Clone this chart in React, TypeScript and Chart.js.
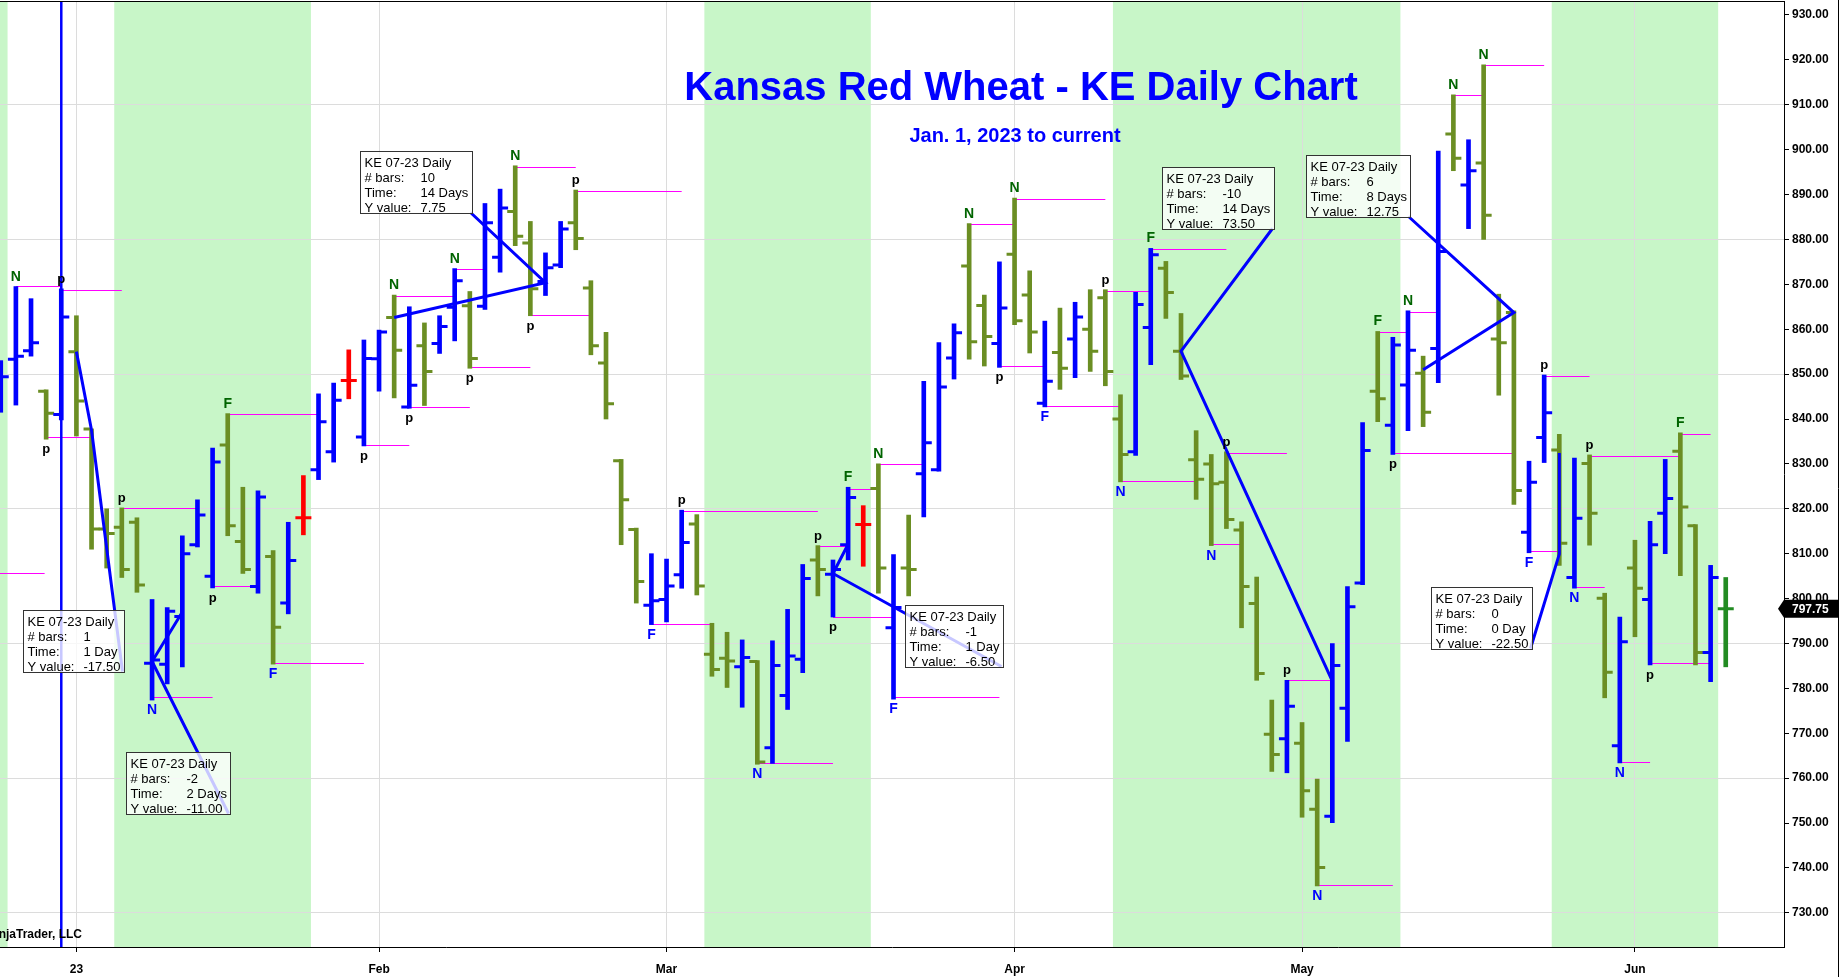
import { useEffect, useRef } from 'react';
import { Chart, registerables } from 'chart.js';

Chart.register(...registerables);

const FONT = '"Liberation Sans", Arial, sans-serif';

// daily bars, index 0 = Dec 23 2022 ... index 114 = Jun 9 2023
const opens = [
  845, 853.3, 855.2, 846.2, 841, 855, 837.8, 815.5, 815.9, 817,
  785.6, 785.4, 796, 812, 805, 834.2, 812.7, 802.7, 809.4, 799,
  818, 828.7, 832.7, 848.6, 836, 853.4, 862.6, 842.7, 856.3, 856.8,
  864.9, 865.2, 865.1, 876, 886.2, 879.2, 870.6, 874.3, 883.7, 869.2,
  852.5, 830.7, 815.4, 798.5, 799.8, 805.3, 816.6, 787.6, 786.7, 784.8,
  786, 766.8, 778.4, 786.5, 808.6, 805.4, 812, 816.5, 824.5, 793.5,
  806.8, 827.8, 828.7, 853.6, 874.1, 865.3, 856.8, 876.7, 867.6, 843.5,
  854.8, 857.8, 860, 867, 840, 832.7, 860.4, 873.6, 855.1, 830.9,
  830, 825.9, 815.3, 798.9, 769.8, 768.8, 767.8, 753.1, 751.5, 775.6,
  803.5, 846.2, 838.6, 847.6, 850.2, 855.7, 903.5, 892.1, 897, 857.8,
  863.7, 814.8, 835.9, 833.1, 804.7, 830.1, 800.1, 767.2, 806.8, 799.8,
  819, 832.8, 816.2, 788, 797.75,
];
const highs = [
  853, 869.5, 866.8, 846.5, 869, 863, 837.8, 820, 820.2, 818,
  799.8, 798, 814, 822, 833.5, 841.2, 824.8, 824, 810.7, 817,
  827.4, 845.6, 848, 855.4, 857.6, 859.8, 867.6, 865, 861.4, 863,
  873.5, 868.4, 888, 891.2, 896.4, 884, 877, 884, 891, 870.8,
  859.3, 831, 815.7, 810, 808.8, 819.7, 818.7, 794.5, 792.5, 790.8,
  786.2, 790.6, 797.6, 807.6, 811.8, 808.6, 824.8, 820.7, 830, 809.8,
  818.6, 848.4, 857, 861.2, 883.5, 867.6, 875, 889.2, 873, 861.8,
  864.7, 866, 868.8, 868.8, 845.4, 868.2, 878, 875.1, 863.5, 837.4,
  832.1, 832.7, 817.1, 804.8, 777.4, 781.8, 772.4, 759.8, 790, 802.7,
  839.2, 859.5, 858.2, 864.1, 854, 899.7, 912.2, 902.2, 918.9, 867.8,
  864.1, 830.6, 849.8, 836.6, 831.3, 832, 801.2, 795.9, 813, 817.2,
  831, 836.9, 816.5, 807.4, 804.7,
];
const lows = [
  841.5, 843.1, 854, 835.5, 839.8, 836.2, 811, 806.8, 804.7, 801.4,
  777.4, 781, 784.8, 811.5, 802.4, 814, 805.6, 801.2, 785.4, 796.6,
  814.2, 826.5, 830.4, 844.5, 834, 846.2, 844.7, 842.4, 843, 854.6,
  857.4, 851.3, 864.4, 872.7, 878.6, 863, 867.5, 873.7, 877.7, 854.3,
  840, 812, 799, 794.2, 794.8, 802.3, 800.8, 782.7, 780.2, 775.8,
  763.1, 763.3, 775.3, 783.5, 800.6, 795.9, 808.6, 807.2, 801.2, 777.6,
  800.6, 818.2, 828.4, 848.9, 853.3, 851.8, 851.5, 861, 854.7, 842.7,
  846.6, 849.2, 850.6, 847.4, 826, 831.9, 852.1, 862.4, 848.8, 822.1,
  811.8, 815.6, 793.5, 781.8, 761.5, 761.2, 751.3, 736, 750.1, 768.2,
  803.1, 839.4, 832.1, 837.4, 838.3, 848.1, 895.3, 882.4, 880, 845.3,
  821, 810.2, 830.3, 807.4, 802.3, 811.9, 777.9, 763.4, 791.5, 785.2,
  810, 805.1, 785.2, 781.5, 784.8,
];
const closes = [
  849.4, 854, 857, 841.3, 862.7, 844, 815.5, 814.5, 806.5, 803,
  786.3, 797.2, 810, 818.6, 830.4, 816.2, 806.5, 822.6, 793.6, 808.5,
  818, 839.4, 844.2, 848.6, 853.5, 859.4, 855.3, 847.5, 850.6, 860.6,
  870.8, 853.5, 883.7, 887, 880.7, 869, 873.7, 882.3, 880.2, 856.3,
  843.4, 822, 803.8, 799.5, 802.8, 812.5, 802.8, 784.2, 786.1, 786.9,
  763.6, 785.1, 787.2, 804.5, 806.5, 806.5, 822.5, 816.5, 806.8, 798,
  806.5, 834.7, 847.1, 859.2, 857.2, 858.4, 864.7, 861.9, 859.4, 848.4,
  851.3, 862.7, 855.1, 850.6, 832.1, 865.5, 876.6, 868.2, 849.6, 826.6,
  825.6, 817.6, 802.7, 783.3, 765.3, 776, 757.2, 740.1, 785.1, 798.2,
  833, 844.5, 856.5, 855.3, 841.5, 877.3, 898.1, 895.3, 885.4, 857,
  824.1, 825.9, 841.4, 812.3, 817.9, 819, 783.6, 790.4, 802.3, 812,
  822.3, 820.4, 788, 804.7, 797.75,
];

const monthTicks = [5, 25, 44, 67, 86, 108];
const monthLabels = ['23', 'Feb', 'Mar', 'Apr', 'May', 'Jun'];
const priceTicks = [730, 740, 750, 760, 770, 780, 790, 800, 810, 820, 830, 840, 850, 860, 870, 880, 890, 900, 910, 920, 930];

// green time windows (bar index from / to)
const bandStart = [-0.5, 7.5, 46.5, 73.5, 102.5];
const bandEnd = [0.45, 20.5, 57.5, 92.5, 113.5];

// swing markers
const swingIdx = [1, 3, 4, 8, 10, 14, 15, 18, 24, 26, 27, 30, 31, 34, 35, 38, 43, 45, 50, 54, 55, 56, 58, 59, 64, 66, 67, 69, 73, 74, 76, 80, 81, 85, 87, 91, 92, 93, 96, 98, 101, 102, 104, 105, 107, 109, 111];
const swingText = ['N', 'p', 'p', 'p', 'N', 'p', 'F', 'F', 'p', 'N', 'p', 'N', 'p', 'N', 'p', 'p', 'F', 'p', 'N', 'p', 'p', 'F', 'N', 'F', 'N', 'p', 'N', 'F', 'p', 'N', 'F', 'N', 'p', 'p', 'N', 'F', 'p', 'N', 'N', 'N', 'F', 'p', 'N', 'p', 'N', 'p', 'F'];
const swingAbove = [true, false, true, true, false, false, true, false, false, true, false, true, false, true, false, true, false, true, false, true, false, true, true, false, true, false, true, false, true, false, true, false, true, true, false, true, false, true, true, true, false, true, false, true, false, false, true];

// magenta level lines: from index, to index, price
const levelFrom = [-1, 1, 4, 3, 8, 10, 14, 15, 18, 24, 26, 27, 30, 31, 34, 35, 38, 43, 45, 50, 54, 55, 56, 58, 59, 64, 66, 67, 69, 73, 74, 76, 80, 81, 85, 87, 91, 92, 93, 96, 98, 101, 102, 104, 105, 107, 109, 111];
const levelTo = [2.9, 4, 8, 6, 13, 14, 17, 21, 24, 27, 30, 31, 32, 35, 38, 39, 45, 47, 54, 55, 56, 59, 58, 61, 66, 67, 69, 73, 74, 76, 79, 81, 82, 85, 88, 92, 93, 100, 95, 98, 102, 103, 105, 106, 111, 109, 113, 113];
const levelPrice = [805.6, 869.6, 868.8, 835.9, 820.2, 778, 802.8, 841.2, 785.6, 834.2, 867.5, 842.7, 873.5, 851.5, 896.2, 863.1, 890.8, 794.4, 819.5, 763.3, 811.8, 795.9, 824.5, 829.9, 778, 883.5, 851.8, 888.9, 842.9, 868.6, 826.2, 877.8, 812.1, 832.5, 781.8, 736.2, 859.4, 832.4, 863.9, 912.2, 918.8, 810.5, 849.5, 802.6, 831.7, 763.7, 785.7, 836.6];

// rulers: start / end (bar index, price), calendar days, info box top-left (bar index, price)
const rulerStartIdx = [5, 12, 26, 56, 88, 94, 103];
const rulerStartPrice = [855, 797, 862.6, 812.1, 781.6, 850.95, 832.4];
const rulerEndIdx = [6, 10, 36, 55, 78, 100, 103];
const rulerEndPrice = [837.5, 786, 870.35, 805.6, 855.1, 863.7, 809.9];
const rulerDays = [1, 2, 14, 1, 14, 8, 0];
const boxIdx = [1.49, 8.26, 23.74, 59.76, 76.75, 86.27, 94.53];
const boxPrice = [797.4, 765.8, 899.65, 798.6, 896.1, 898.8, 802.6];

const cursorIdx = 4;

function barColor(i: number) {
  if (i === closes.length - 1) return '#228B22';
  if (closes[i] > opens[i]) return '#0000FF';
  if (closes[i] < opens[i]) return '#6B8E23';
  return '#FF0000';
}

const overlayPlugin = {
  id: 'overlay',
  beforeDraw(chart: any) {
    const { ctx, chartArea: a, scales } = chart;
    const xs = scales.x;
    ctx.save();
    ctx.fillStyle = '#ffffff';
    ctx.fillRect(0, 0, chart.width, chart.height);
    ctx.fillStyle = '#C8F6C8';
    bandStart.forEach((s, k) => {
      const x0 = Math.max(a.left, xs.getPixelForValue(s));
      const x1 = Math.min(a.right, xs.getPixelForValue(bandEnd[k]));
      ctx.fillRect(x0, a.top, x1 - x0, a.bottom - a.top);
    });
    ctx.restore();
  },
  beforeDatasetsDraw(chart: any) {
    const { ctx, chartArea: a, scales } = chart;
    const xs = scales.x, ys = scales.y;
    ctx.save();
    ctx.beginPath();
    ctx.rect(a.left, a.top, a.right - a.left, a.bottom - a.top);
    ctx.clip();
    ctx.strokeStyle = '#FF00FF';
    ctx.lineWidth = 1;
    levelFrom.forEach((f, k) => {
      const y = Math.round(ys.getPixelForValue(levelPrice[k])) + 0.5;
      ctx.beginPath();
      ctx.moveTo(xs.getPixelForValue(f), y);
      ctx.lineTo(xs.getPixelForValue(levelTo[k]), y);
      ctx.stroke();
    });
    ctx.restore();
  },
  afterDatasetsDraw(chart: any) {
    const { ctx, chartArea: a, scales } = chart;
    const xs = scales.x, ys = scales.y;
    ctx.save();
    ctx.beginPath();
    ctx.rect(a.left, a.top, a.right - a.left, a.bottom - a.top);
    ctx.clip();

    // open / close ticks
    ctx.lineWidth = 3;
    opens.forEach((o, i) => {
      const x = xs.getPixelForValue(i);
      ctx.strokeStyle = barColor(i);
      ctx.beginPath();
      ctx.moveTo(x - 8, ys.getPixelForValue(o));
      ctx.lineTo(x, ys.getPixelForValue(o));
      ctx.moveTo(x, ys.getPixelForValue(closes[i]));
      ctx.lineTo(x + 8, ys.getPixelForValue(closes[i]));
      ctx.stroke();
    });

    // cursor line
    ctx.strokeStyle = '#0000FF';
    ctx.lineWidth = 2.5;
    ctx.beginPath();
    ctx.moveTo(xs.getPixelForValue(cursorIdx), a.top);
    ctx.lineTo(xs.getPixelForValue(cursorIdx), a.bottom);
    ctx.stroke();

    // rulers with info boxes
    ctx.font = `13px ${FONT}`;
    rulerStartIdx.forEach((si, k) => {
      const sx = xs.getPixelForValue(si), sy = ys.getPixelForValue(rulerStartPrice[k]);
      const ex = xs.getPixelForValue(rulerEndIdx[k]), ey = ys.getPixelForValue(rulerEndPrice[k]);
      const bx = Math.round(xs.getPixelForValue(boxIdx[k])) + 0.5;
      const by = Math.round(ys.getPixelForValue(boxPrice[k])) + 0.5;
      const nb = rulerEndIdx[k] - si;
      const dy = rulerEndPrice[k] - rulerStartPrice[k];
      const d = rulerDays[k];
      const values = [String(nb), `${d} ${d > 1 ? 'Days' : 'Day'}`, dy.toFixed(2)];
      const head = 'KE 07-23 Daily';
      const valW = Math.max(...values.map((v) => ctx.measureText(v).width));
      const w = Math.round(Math.max(ctx.measureText(head).width + 9, 60 + valW + 4));
      const h = 62;

      ctx.strokeStyle = '#0000FF';
      ctx.lineWidth = 3;
      ctx.beginPath();
      ctx.moveTo(sx, sy);
      ctx.lineTo(ex, ey);
      ctx.lineTo(bx + w - 2, by + h - 1);
      ctx.stroke();

      ctx.fillStyle = 'rgba(255,255,255,0.78)';
      ctx.fillRect(bx, by, w, h);
      ctx.strokeStyle = '#333';
      ctx.lineWidth = 1;
      ctx.strokeRect(bx, by, w, h);
      ctx.fillStyle = '#000';
      ctx.textAlign = 'left';
      ctx.textBaseline = 'alphabetic';
      ctx.fillText(head, bx + 4, by + 15);
      ['# bars:', 'Time:', 'Y value:'].forEach((lab, r) => {
        ctx.fillText(lab, bx + 4, by + 30 + r * 15);
        ctx.fillText(values[r], bx + 60, by + 30 + r * 15);
      });
    });

    // swing labels
    ctx.textAlign = 'center';
    ctx.textBaseline = 'alphabetic';
    swingIdx.forEach((i, k) => {
      const t = swingText[k];
      const above = swingAbove[k];
      const x = xs.getPixelForValue(i);
      const y = above ? ys.getPixelForValue(highs[i]) - 6 : ys.getPixelForValue(lows[i]) + (t === 'p' ? 14 : 14);
      ctx.font = t === 'p' ? `bold 13px ${FONT}` : `bold 14px ${FONT}`;
      ctx.fillStyle = t === 'p' ? '#000' : above ? '#006400' : '#0000FF';
      ctx.fillText(t, x, y);
    });
    ctx.restore();

    // frame, titles, price marker
    ctx.save();
    ctx.strokeStyle = '#000';
    ctx.lineWidth = 1;
    ctx.beginPath();
    ctx.moveTo(a.left, a.top + 0.5);
    ctx.lineTo(a.right, a.top + 0.5);
    ctx.moveTo(chart.width - 1.5, 0);
    ctx.lineTo(chart.width - 1.5, chart.height);
    ctx.stroke();

    ctx.fillStyle = '#0000FF';
    ctx.textAlign = 'center';
    ctx.textBaseline = 'alphabetic';
    ctx.font = `bold 40px ${FONT}`;
    ctx.fillText('Kansas Red Wheat - KE Daily Chart', 1021, 100);
    ctx.font = `bold 20px ${FONT}`;
    ctx.fillText('Jan. 1, 2023 to current', 1015, 142);

    ctx.fillStyle = '#000';
    ctx.font = `bold 12px ${FONT}`;
    ctx.textAlign = 'right';
    ctx.fillText('\u00a9 2023 NinjaTrader, LLC', 82, 938);

    const last = closes.length - 1;
    const py = ys.getPixelForValue(closes[last]);
    ctx.fillStyle = '#000';
    ctx.beginPath();
    ctx.moveTo(a.right - 6, py);
    ctx.lineTo(a.right, py - 9);
    ctx.lineTo(chart.width - 2, py - 9);
    ctx.lineTo(chart.width - 2, py + 9);
    ctx.lineTo(a.right, py + 9);
    ctx.closePath();
    ctx.fill();
    ctx.fillStyle = '#fff';
    ctx.font = `bold 12px ${FONT}`;
    ctx.textAlign = 'left';
    ctx.textBaseline = 'middle';
    ctx.fillText(closes[last].toFixed(2), a.right + 8, py + 1);
    ctx.restore();
  },
};

export default function App() {
  const chartRef = useRef<HTMLCanvasElement | null>(null);
  const chartInstance = useRef<Chart | null>(null);

  useEffect(() => {
    if (!chartRef.current) return;
    if (chartInstance.current) chartInstance.current.destroy();

    chartInstance.current = new Chart(chartRef.current, {
      type: 'bar',
      data: {
        datasets: [
          {
            data: highs.map((h, i) => ({ x: i, y: [lows[i], h] })) as any,
            backgroundColor: highs.map((_, i) => barColor(i)),
            barThickness: 4,
            borderWidth: 0,
            grouped: false,
          },
        ],
      },
      options: {
        animation: false,
        responsive: true,
        maintainAspectRatio: false,
        layout: { padding: { top: 1, left: 0, right: 0, bottom: 0 } },
        plugins: {
          legend: { display: false },
          tooltip: { enabled: false },
        },
        scales: {
          x: {
            type: 'linear',
            min: -0.05,
            max: 117.85,
            offset: false,
            afterBuildTicks: (s: any) => {
              s.ticks = monthTicks.map((v) => ({ value: v }));
            },
            afterFit: (s: any) => {
              s.height = 30;
              s.paddingLeft = 0;
              s.paddingRight = 0;
            },
            ticks: {
              autoSkip: false,
              maxRotation: 0,
              padding: 10,
              color: '#000',
              font: { family: FONT, size: 12, weight: 'bold' },
              callback: (v: any) => monthLabels[monthTicks.indexOf(Number(v))] ?? '',
            },
            grid: { offset: false, color: '#dcdcdc', tickColor: '#000', tickLength: 5 },
            border: { color: '#000', width: 1 },
          },
          y: {
            type: 'linear',
            position: 'right',
            min: 722.4,
            max: 933.1,
            afterBuildTicks: (s: any) => {
              s.ticks = priceTicks.map((v) => ({ value: v }));
            },
            afterFit: (s: any) => {
              s.width = 56;
              s.paddingTop = 0;
              s.paddingBottom = 0;
            },
            ticks: {
              padding: 3,
              color: '#000',
              font: { family: FONT, size: 12, weight: 'bold' },
              callback: (v: any) => Number(v).toFixed(2),
            },
            grid: {
              color: (c: any) => (c.tick && (c.tick.value - 730) % 30 === 0 ? '#dcdcdc' : 'rgba(0,0,0,0)'),
              tickColor: '#000',
              tickLength: 5,
            },
            border: { color: '#000', width: 1 },
          },
        },
      },
      plugins: [overlayPlugin],
    });

    return () => {
      if (chartInstance.current) {
        chartInstance.current.destroy();
        chartInstance.current = null;
      }
    };
  }, []);

  return (
    <div style={{ position: 'fixed', left: 0, top: 0, width: 1840, height: 977, background: '#fff' }}>
      <canvas ref={chartRef}></canvas>
    </div>
  );
}
